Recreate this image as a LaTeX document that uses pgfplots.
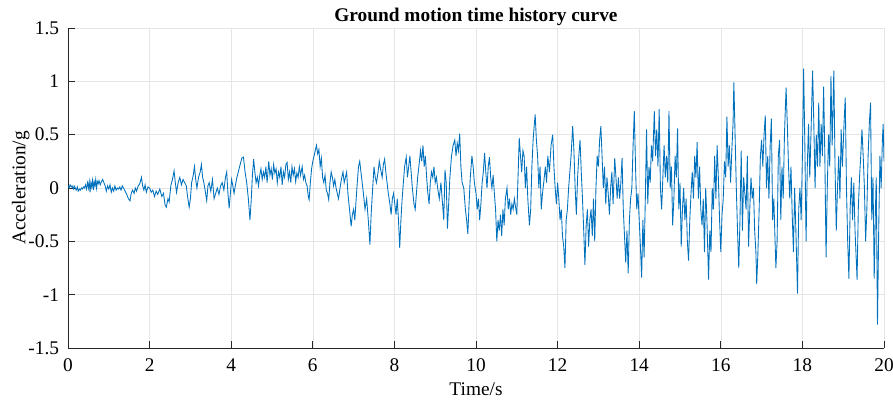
\documentclass[border=0pt]{standalone}
\usepackage{pgfplots}
\pgfplotsset{compat=1.18}
\usepackage{fontspec}
\setmainfont{Liberation Serif}

\definecolor{mlblue}{RGB}{0,114,189}
\definecolor{mlaxis}{RGB}{38,38,38}

\newcommand{\chartfont}{\fontsize{14.5}{16}\selectfont}

\begin{document}
\begin{tikzpicture}
\begin{axis}[
  name=ax,
  scale only axis,
  width=612pt, height=240pt,
  xmin=0, xmax=20, ymin=-1.5, ymax=1.5,
  axis x line*=bottom, axis y line*=left,
  axis line style={-, mlaxis, line width=0.6pt},
  xtick={0,2,...,20},
  xticklabels={0,2,4,6,8,10,12,14,16,18,20},
  ytick={-1.5,-1,-0.5,0,0.5,1,1.5},
  yticklabels={-1.5,-1,-0.5,0,0.5,1,1.5},
  tick align=inside,
  major tick length=5pt,
  tick style={mlaxis, line width=0.6pt},
  grid=major,
  major grid style={gray!20, line width=0.4pt},
  tick label style={font=\chartfont, text=black, inner sep=0pt},
  xticklabel style={anchor=base, yshift=-17.8pt},
  yticklabel style={anchor=east, xshift=-6.5pt},
  label style={font=\chartfont, inner sep=0pt},
  xlabel={Time/s},
  ylabel={Acceleration/g},
  xlabel style={at={(axis description cs:0.5,-0.1469)}, anchor=base},
  ylabel style={at={(axis description cs:-0.0523,0.5)}, anchor=base, rotate=0},
  title={Ground motion time history curve},
  every axis title shift=0pt,
  title style={font=\chartfont\bfseries, inner sep=0pt,
    at={(axis description cs:0.5,1)}, anchor=base, yshift=4.7pt},
]
\addplot[mlblue, line width=0.65pt, no marks] table {
t a
0.00 0.02
0.03 0.00
0.05 0.03
0.08 0.01
0.10 0.02
0.13 -0.01
0.15 0.02
0.18 0.00
0.20 -0.02
0.23 0.01
0.25 -0.03
0.28 -0.01
0.30 -0.02
0.33 0.00
0.35 -0.01
0.38 0.01
0.40 0.00
0.43 0.03
0.45 -0.01
0.48 0.05
0.50 0.00
0.52 0.06
0.54 -0.04
0.56 0.05
0.58 0.01
0.60 0.07
0.62 -0.02
0.64 0.06
0.66 0.02
0.68 0.08
0.70 0.00
0.72 0.06
0.74 0.04
0.76 0.07
0.79 0.03
0.82 0.06
0.85 0.08
0.88 0.05
0.91 0.02
0.94 -0.03
0.97 0.02
1.00 -0.01
1.03 0.03
1.06 -0.04
1.09 0.00
1.12 -0.03
1.15 0.02
1.18 -0.02
1.21 0.00
1.24 -0.01
1.27 0.01
1.30 -0.02
1.33 0.02
1.36 0.00
1.40 -0.03
1.44 -0.06
1.48 -0.10
1.52 -0.12
1.55 -0.05
1.58 -0.02
1.62 -0.05
1.65 0.00
1.68 -0.03
1.72 0.02
1.76 0.04
1.80 0.10
1.83 0.02
1.86 -0.02
1.89 0.03
1.92 -0.04
1.96 0.01
2.00 0.00
2.04 -0.04
2.08 -0.02
2.12 -0.08
2.16 -0.03
2.20 -0.06
2.25 -0.01
2.30 -0.08
2.34 -0.05
2.38 -0.16
2.41 -0.18
2.45 -0.10
2.48 -0.13
2.52 0.02
2.56 0.08
2.60 0.16
2.63 0.05
2.66 -0.04
2.70 0.05
2.74 0.10
2.78 0.03
2.82 0.08
2.86 0.05
2.90 0.02
2.93 -0.08
2.97 -0.18
3.00 -0.10
3.03 0.05
3.07 0.12
3.10 0.20
3.13 0.08
3.16 0.00
3.20 0.10
3.24 0.15
3.27 0.22
3.30 0.10
3.33 0.05
3.36 -0.02
3.40 -0.12
3.43 0.02
3.46 0.05
3.50 -0.03
3.54 0.08
3.58 -0.10
3.62 -0.05
3.66 0.00
3.70 -0.06
3.74 0.02
3.78 0.05
3.82 -0.02
3.86 0.10
3.89 0.15
3.92 -0.05
3.95 -0.19
3.98 -0.05
4.01 0.08
4.04 0.02
4.07 -0.05
4.10 0.02
4.14 0.10
4.18 0.16
4.22 0.22
4.26 0.28
4.30 0.29
4.34 0.15
4.38 0.05
4.42 -0.10
4.46 -0.30
4.49 -0.12
4.52 0.12
4.55 0.27
4.58 0.15
4.61 0.05
4.64 0.10
4.67 0.02
4.70 0.12
4.73 0.18
4.76 0.08
4.79 0.15
4.82 0.10
4.85 0.20
4.88 0.05
4.92 0.25
4.95 0.12
4.98 0.18
5.01 0.08
5.04 0.22
5.07 0.14
5.10 0.18
5.13 0.05
5.16 0.15
5.19 0.10
5.22 0.20
5.25 0.03
5.28 0.15
5.31 0.10
5.34 0.22
5.37 0.24
5.40 0.08
5.43 0.15
5.46 0.05
5.49 0.20
5.52 0.12
5.55 0.18
5.58 0.06
5.61 0.14
5.64 0.10
5.67 0.20
5.70 0.12
5.74 0.20
5.77 0.08
5.80 0.12
5.83 0.05
5.86 0.02
5.89 -0.08
5.91 -0.11
5.94 0.05
5.97 0.18
6.00 0.25
6.03 0.30
6.06 0.35
6.09 0.40
6.12 0.32
6.15 0.36
6.18 0.20
6.21 0.28
6.24 0.10
6.27 0.05
6.30 0.12
6.33 -0.02
6.36 -0.05
6.39 -0.11
6.42 0.05
6.45 0.15
6.48 0.10
6.51 0.02
6.54 0.08
6.57 0.00
6.60 -0.05
6.63 -0.10
6.66 -0.02
6.70 0.08
6.74 0.15
6.77 0.05
6.80 0.10
6.83 0.15
6.86 -0.05
6.90 -0.20
6.94 -0.36
6.97 -0.25
7.00 -0.20
7.03 -0.30
7.06 -0.12
7.09 0.05
7.12 0.20
7.15 0.25
7.18 0.15
7.21 0.05
7.24 -0.05
7.28 -0.20
7.32 -0.10
7.36 -0.30
7.40 -0.53
7.43 -0.25
7.46 -0.05
7.50 0.20
7.53 0.10
7.56 0.05
7.60 0.15
7.63 0.25
7.66 0.18
7.70 0.10
7.73 0.22
7.76 0.27
7.79 0.15
7.82 0.05
7.85 -0.05
7.89 -0.15
7.92 -0.25
7.95 -0.10
7.98 -0.05
8.01 -0.15
8.04 -0.25
8.07 -0.10
8.10 -0.30
8.13 -0.56
8.16 -0.30
8.19 -0.10
8.22 0.05
8.25 0.20
8.29 0.29
8.32 0.10
8.35 0.20
8.38 0.30
8.41 0.15
8.44 0.00
8.48 -0.15
8.51 -0.20
8.54 -0.05
8.57 0.10
8.60 0.20
8.64 0.35
8.67 0.25
8.70 0.40
8.73 0.20
8.76 0.30
8.79 0.10
8.82 -0.05
8.85 -0.15
8.88 0.05
8.91 0.15
8.94 0.10
8.97 0.20
9.00 0.05
9.03 0.10
9.06 0.00
9.10 -0.10
9.14 0.05
9.18 -0.15
9.21 -0.30
9.24 0.17
9.27 0.05
9.30 -0.38
9.33 -0.15
9.36 0.10
9.40 0.30
9.44 0.40
9.48 0.45
9.51 0.30
9.54 0.42
9.57 0.35
9.60 0.51
9.63 0.20
9.66 0.05
9.70 0.00
9.74 -0.20
9.77 -0.30
9.80 -0.43
9.83 -0.15
9.86 0.10
9.90 0.30
9.93 0.20
9.96 0.05
10.00 -0.05
10.03 -0.20
10.06 -0.10
10.09 -0.30
10.12 -0.15
10.15 0.05
10.18 0.15
10.21 0.33
10.24 0.15
10.27 0.00
10.30 0.20
10.33 0.29
10.36 0.10
10.39 0.00
10.42 0.12
10.45 -0.05
10.48 -0.20
10.51 -0.50
10.54 -0.30
10.57 -0.40
10.60 -0.25
10.63 -0.45
10.66 -0.20
10.69 -0.35
10.72 -0.10
10.76 0.00
10.79 -0.20
10.82 -0.10
10.85 -0.25
10.88 -0.15
10.91 -0.20
10.94 -0.10
10.97 -0.18
11.00 -0.25
11.03 0.10
11.06 0.47
11.09 0.30
11.12 0.15
11.15 0.35
11.18 0.30
11.21 0.00
11.24 0.20
11.27 -0.10
11.31 -0.35
11.34 -0.20
11.37 0.20
11.40 0.45
11.43 0.60
11.45 0.69
11.48 0.45
11.51 0.30
11.54 0.00
11.57 0.20
11.60 -0.20
11.63 -0.05
11.66 0.05
11.70 0.20
11.73 0.05
11.76 0.30
11.80 0.15
11.84 0.40
11.88 0.50
11.91 0.20
11.94 0.00
11.97 -0.15
12.00 0.05
12.03 -0.10
12.06 -0.30
12.09 -0.20
12.12 -0.45
12.15 -0.55
12.18 -0.75
12.21 -0.30
12.24 -0.20
12.27 0.00
12.30 0.15
12.33 0.30
12.37 0.58
12.40 0.35
12.43 0.00
12.46 -0.25
12.49 0.10
12.52 0.30
12.55 0.45
12.58 0.15
12.61 -0.10
12.64 -0.40
12.67 -0.72
12.70 -0.35
12.73 -0.20
12.76 -0.55
12.79 -0.30
12.82 -0.20
12.85 -0.45
12.88 -0.10
12.91 -0.50
12.94 0.00
12.97 0.30
13.00 0.20
13.03 0.45
13.06 0.58
13.09 0.30
13.12 0.00
13.15 0.20
13.18 -0.15
13.21 0.10
13.24 -0.05
13.27 -0.25
13.30 0.00
13.33 0.15
13.36 -0.15
13.40 0.28
13.43 0.10
13.46 -0.10
13.49 0.10
13.52 -0.10
13.55 0.05
13.58 0.28
13.61 -0.20
13.64 -0.45
13.67 -0.70
13.70 -0.40
13.73 -0.80
13.76 -0.30
13.79 -0.10
13.82 0.00
13.85 0.40
13.88 0.72
13.91 0.20
13.94 -0.20
13.97 -0.05
14.00 -0.30
14.03 -0.55
14.06 -0.84
14.09 -0.30
14.12 -0.65
14.15 -0.10
14.18 0.55
14.21 -0.15
14.24 0.20
14.27 0.05
14.30 0.40
14.33 0.25
14.37 0.72
14.40 0.30
14.43 0.55
14.46 0.20
14.49 0.74
14.52 0.00
14.55 -0.20
14.58 0.10
14.61 0.40
14.64 0.10
14.67 0.30
14.70 0.05
14.73 0.72
14.76 0.00
14.79 0.20
14.82 -0.35
14.85 -0.10
14.88 0.30
14.91 0.10
14.94 0.56
14.97 -0.20
15.00 0.05
15.03 -0.55
15.06 -0.20
15.09 0.00
15.12 -0.30
15.15 -0.10
15.18 -0.50
15.21 -0.68
15.24 -0.30
15.27 -0.05
15.30 0.15
15.33 -0.10
15.36 0.30
15.39 0.10
15.42 0.43
15.45 -0.10
15.48 0.20
15.51 -0.20
15.54 -0.35
15.57 -0.10
15.60 -0.60
15.63 0.00
15.66 -0.30
15.70 -0.86
15.73 -0.40
15.76 -0.60
15.79 0.00
15.82 -0.20
15.85 0.30
15.88 -0.10
15.91 0.40
15.94 0.10
15.97 -0.30
16.00 -0.60
16.03 -0.25
16.06 -0.10
16.09 0.25
16.12 0.10
16.15 0.67
16.18 0.20
16.21 0.40
16.24 0.05
16.27 0.35
16.30 0.60
16.32 0.99
16.35 0.50
16.38 0.00
16.41 -0.40
16.44 -0.75
16.47 -0.30
16.50 0.35
16.53 -0.40
16.56 0.10
16.59 -0.05
16.62 -0.20
16.65 0.30
16.68 -0.55
16.71 -0.20
16.74 0.10
16.77 -0.10
16.80 0.00
16.83 -0.40
16.86 -0.60
16.88 -0.90
16.91 -0.60
16.94 -0.20
16.97 0.30
17.00 0.45
17.03 0.20
17.06 0.50
17.09 0.68
17.12 0.00
17.15 0.30
17.18 -0.10
17.21 0.40
17.24 0.65
17.27 -0.30
17.30 -0.10
17.33 -0.50
17.35 -0.75
17.38 -0.50
17.41 0.30
17.44 0.45
17.47 -0.30
17.50 0.20
17.53 -0.10
17.56 0.50
17.60 0.94
17.63 0.60
17.66 0.20
17.69 -0.10
17.72 0.20
17.75 -0.25
17.78 -0.60
17.81 0.00
17.84 -0.40
17.88 -0.99
17.91 -0.20
17.94 0.00
17.97 -0.30
18.00 0.30
18.03 1.12
18.06 0.40
18.09 -0.50
18.12 0.20
18.15 0.60
18.18 0.10
18.21 0.50
18.25 1.10
18.28 0.60
18.31 0.00
18.34 0.50
18.37 0.20
18.40 0.80
18.43 0.20
18.46 0.60
18.49 0.30
18.52 0.95
18.55 0.30
18.58 -0.65
18.61 0.00
18.64 0.50
18.67 0.20
18.70 1.05
18.73 0.40
18.77 1.10
18.80 0.20
18.83 -0.40
18.86 0.00
18.89 0.30
18.92 -0.10
18.95 0.55
18.98 0.20
19.02 0.60
19.05 0.85
19.08 0.00
19.11 -0.50
19.14 -0.85
19.17 -0.20
19.20 0.10
19.23 -0.30
19.26 0.05
19.29 -0.40
19.34 -0.86
19.37 -0.20
19.40 0.10
19.43 0.30
19.46 0.55
19.49 0.30
19.52 0.00
19.55 -0.50
19.58 -0.20
19.61 0.30
19.64 0.60
19.67 0.80
19.70 -0.30
19.73 0.10
19.76 -0.85
19.79 -0.20
19.81 0.10
19.84 -1.28
19.87 -0.40
19.90 0.30
19.93 0.00
19.96 0.45
19.98 0.60
20.00 0.25
};
\end{axis}
\pgfresetboundingbox
\path[use as bounding box] ([xshift=-51pt,yshift=-39pt]ax.south west) rectangle ([xshift=6.75pt,yshift=21pt]ax.north east);
\end{tikzpicture}
\end{document}
